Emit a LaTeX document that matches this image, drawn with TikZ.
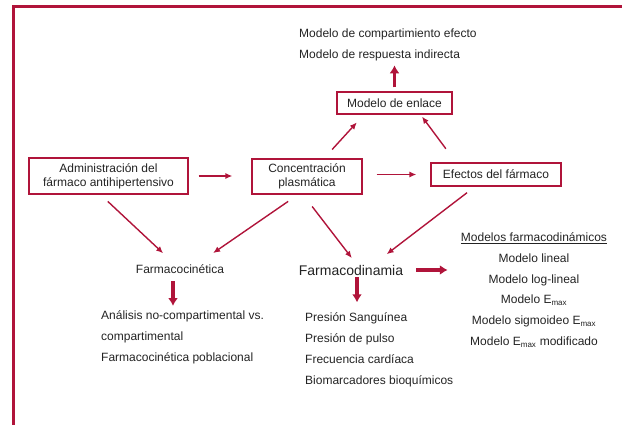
\documentclass[tikz,border=0pt]{standalone}
\usepackage{fontspec}
\setmainfont{Liberation Sans}
\usetikzlibrary{arrows.meta}
\definecolor{linkred}{RGB}{176,20,58}
\definecolor{textgray}{RGB}{35,35,35}

\begin{document}
\begin{tikzpicture}[x=1pt,y=-1pt,
  every node/.style={text=textgray, font=\fontsize{12}{14}\selectfont},
  box/.style={draw=linkred, line width=1.2pt, align=center, inner sep=0pt},
  plain/.style={inner sep=0pt},
  list/.style={inner sep=0pt, align=left, font=\fontsize{12}{21}\selectfont},
  thin/.style={-{Latex[length=7pt,width=6pt]}, color=linkred, line width=1.4pt},
  thick/.style={-{Latex[length=8pt,width=10pt]}, color=linkred, line width=3.2pt}]
  \useasboundingbox (0,0) rectangle (622,425);
  \draw[linkred, line width=3pt] (13,425) -- (13,7) -- (622,7);

  % boxes
  \node[box, minimum width=159pt, minimum height=36pt] (adm) at (108.5,176) {Administración del\\fármaco antihipertensivo};
  \node[box, minimum width=110pt, minimum height=35pt] (conc) at (307,176.5) {Concentración\\plasmática};
  \node[box, minimum width=130pt, minimum height=23pt] (eff) at (496,174.5) {Efectos del fármaco};
  \node[box, minimum width=115pt, minimum height=22pt] (enl) at (394.5,103) {Modelo de enlace};

  % plain texts
  \node[list, anchor=north west] (pkpd) at (299,28.5) {Modelo de compartimiento efecto\\Modelo de respuesta indirecta};
  \node[plain] (pk) at (180,269) {Farmacocinética};
  \node[plain, font=\fontsize{14}{16}\selectfont] (pd) at (351,270) {Farmacodinamia};
  \node[list, anchor=north west] (pklist) at (101,310.5) {Análisis no-compartimental vs.\\compartimental\\Farmacocinética poblacional};
  \node[list, anchor=north west] (pdlist) at (305,312.3) {Presión Sanguínea\\Presión de pulso\\Frecuencia cardíaca\\Biomarcadores bioquímicos};
  \node[list, align=center, anchor=north, font=\fontsize{12}{20.8}\selectfont] (pdmod) at (534,232.5)
    {\underline{Modelos farmacodinámicos}\\Modelo lineal\\Modelo log-lineal\\Modelo E\textsubscript{max}\\Modelo sigmoideo E\textsubscript{max}\\Modelo E\textsubscript{max} modificado};

  \path[thin]
    (adm.east) edge[shorten <=10pt, shorten >=19pt] (conc.west |- adm.east)
    (conc.east |- eff.west) edge[shorten <=14pt, shorten >=14pt] (eff.west)
    ([xshift=17pt]conc.north) edge[shorten <=12pt, shorten >=10.6pt] ([xshift=-30.5pt]enl.south)
    ([xshift=-40pt]eff.north) edge[shorten <=17pt, shorten >=2.5pt] ([xshift=26pt]enl.south)
    ([xshift=-8pt]adm.south) edge[shorten <=10pt, shorten >=23pt] (pk.center)
    ([xshift=-9pt]conc.south) edge[shorten <=12pt, shorten >=28pt] ([xshift=10pt]pk.center)
    ([xshift=-4pt]conc.south) edge[shorten <=15pt, shorten >=15pt] ([xshift=10pt]pd.center)
    ([xshift=-21pt]eff.south) edge[shorten <=10pt, shorten >=26pt] ([xshift=15pt]pd.center);
  \path[thick]
    (enl.north) edge[shorten <=4pt, shorten >=4.2pt] (enl.north |- pkpd.south)
    (pd.east) edge[shorten <=13pt, shorten >=13pt] (pd.east -| pdmod.west)
    ([xshift=-7pt]pk.south) edge[shorten <=7.5pt, shorten >=4.5pt] ([xshift=-7pt]pk.south |- pklist.north)
    ([xshift=6pt]pd.south) edge[shorten <=2pt, shorten >=10pt] ([xshift=6pt]pd.south |- pdlist.north);
\end{tikzpicture}
\end{document}
